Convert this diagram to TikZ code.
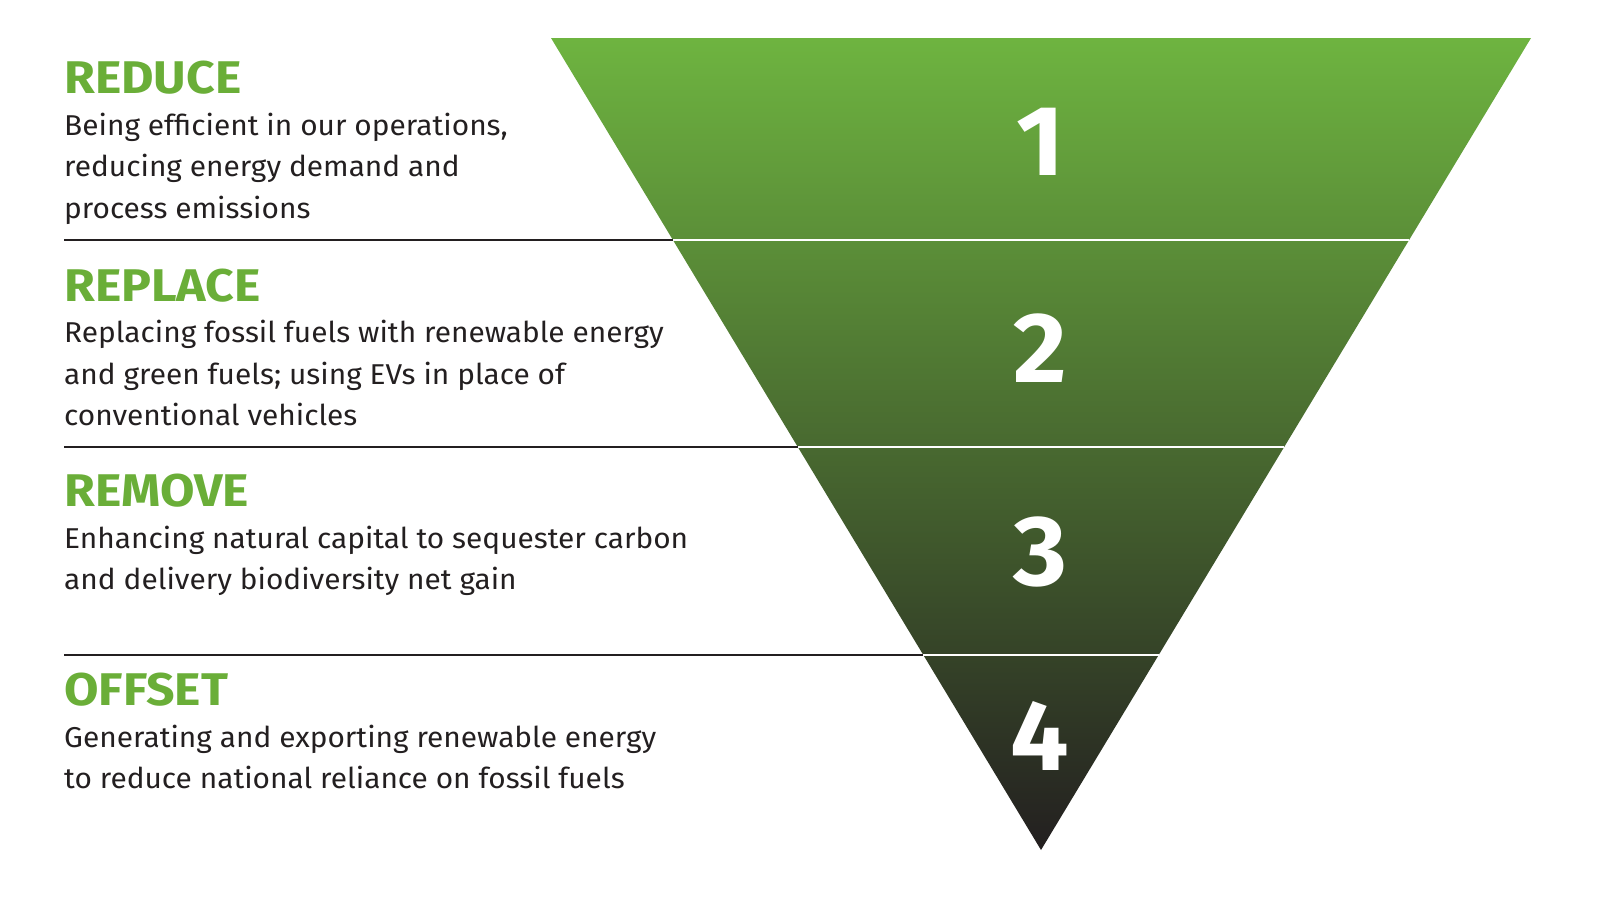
\documentclass[tikz,border=0pt]{standalone}
\usepackage{fontspec}
\setmainfont{Fira Sans}[FakeStretch=1.04]
\newfontfamily\headfont{Fira Sans}[FakeStretch=1.09]
\usetikzlibrary{calc}
\definecolor{leafgreen}{RGB}{110,180,64}
\definecolor{nearblack}{RGB}{35,31,32}
\definecolor{headgreen}{RGB}{106,174,56}
\begin{document}
\begin{tikzpicture}[x=1bp,y=-1bp,
  head/.style={anchor=base west,inner sep=0pt,text=headgreen,font=\headfont\fontsize{46}{46}\selectfont\bfseries},
  body/.style={anchor=base west,inner sep=0pt,align=left,text=nearblack,font=\fontsize{28.8}{41.5}\selectfont},
  num/.style={inner sep=0pt,text=white,font=\fontsize{100}{100}\selectfont\bfseries},
  rule/.style={line width=2bp,draw=nearblack}]
\useasboundingbox (0,0) rectangle (1600,900);
% the funnel
\coordinate (tl) at (551,38);
\coordinate (tr) at (1531,38);
\coordinate (apex) at (1041,850);
\shade[top color=leafgreen,bottom color=nearblack] (tl) -- (tr) -- (apex) -- cycle;
\foreach \t/\n in {0.249/1,0.504/2,0.760/3}{
  \coordinate (l\n) at ($(tl)!\t!(apex)$);
  \coordinate (r\n) at ($(tr)!\t!(apex)$);
  \coordinate (s\n) at (64,0 |- l\n);
  \draw[rule] (s\n) -- (l\n);
  \draw[white,line width=2bp] (l\n) -- (r\n);
}
\node[num] (n1) at (1041,142) {1};
\node[num] (n2) at (1040,348) {2};
\node[num] (n3) at (1040,552) {3};
\node[num] (n4) at (1040,736) {4};
% labels (body nodes sit on the baseline of their last line)
\node[head] (reduce) at (64,93) {REDUCE};
\node[body] (reduce-text) at (64,218) {Being efficient in our operations,\\reducing energy demand and\\process emissions};
\node[head] (replace) at (64,301) {REPLACE};
\node[body] (replace-text) at (64,425.5) {Replacing fossil fuels with renewable energy\\and green fuels; using EVs in place of\\conventional vehicles};
\node[head] (remove) at (64,506) {REMOVE};
\node[body] (remove-text) at (64,589.5) {Enhancing natural capital to sequester carbon\\and delivery biodiversity net gain};
\node[head] (offset) at (64,705) {OFFSET};
\node[body] (offset-text) at (64,788.5) {Generating and exporting renewable energy\\to reduce national reliance on fossil fuels};
\end{tikzpicture}
\end{document}
